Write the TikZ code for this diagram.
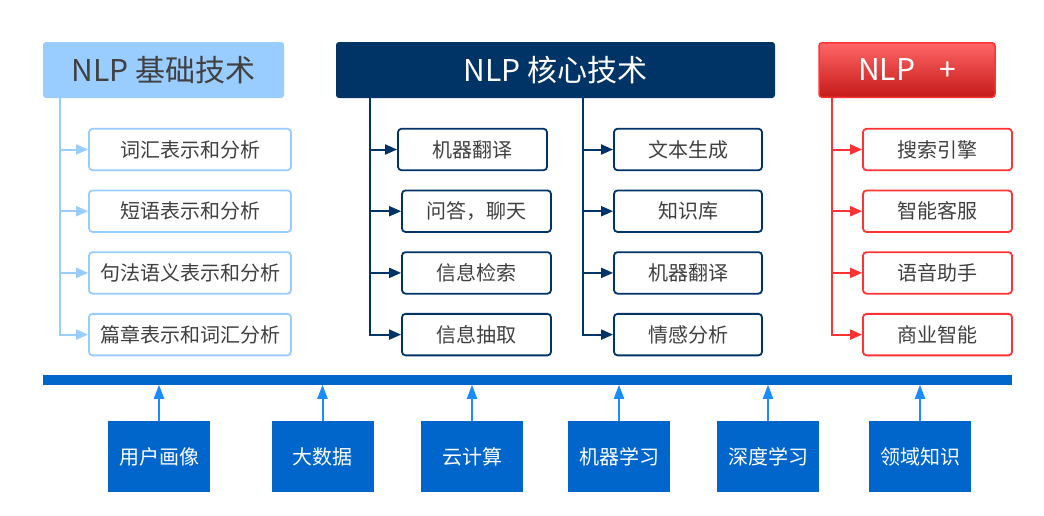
\documentclass[tikz,border=0pt]{standalone}
\usepackage{fontspec}
\setmainfont{Noto Sans CJK SC}
\usetikzlibrary{arrows.meta}

\definecolor{lightblue}{HTML}{99CCFF}
\definecolor{navy}{HTML}{003366}
\definecolor{redline}{HTML}{FF3333}
\definecolor{barblue}{HTML}{0066CC}
\definecolor{arrowblue}{HTML}{1A8CFF}
\definecolor{textgray}{HTML}{404040}

\tikzset{
  head/.style={rounded corners=3pt, minimum height=56pt, inner sep=0pt,
    font=\fontsize{30}{35}\selectfont},
  item/.style={draw, rounded corners=3.5pt, line width=1.8pt, fill=white,
    minimum height=41.5pt, inner sep=0pt, text=textgray,
    font=\fontsize{20}{24}\selectfont},
  base/.style={fill=barblue, minimum width=102pt, minimum height=71pt,
    inner sep=0pt, text=white, font=\fontsize{20}{24}\selectfont},
  link/.style={line width=2pt, -{Triangle[length=12pt,width=10pt]}},
  uplink/.style={line width=2pt, arrowblue, -{Triangle[length=14pt,width=10pt]}},
}

\begin{document}
\begin{tikzpicture}[x=1pt,y=-1pt]
\useasboundingbox[fill=white] (0,0) rectangle (1044,515);

% three heads
\node[head, fill=lightblue, text=textgray, minimum width=241pt] (basic) at (163.5,70) {NLP 基础技术};
\node[head, fill=navy, text=white, minimum width=439pt] (core) at (555.5,70) {NLP 核心技术};
\node[head, draw=redline, line width=1.5pt, top color=red!60!white, bottom color=red!75!black!90,
  text=white, minimum width=176pt, minimum height=54.5pt] (plus) at (907,70) {NLP\hspace{0.8em}+};

% trunks start under the heads
\coordinate (tbasic) at (60,98);
\coordinate (tcore) at (370,98);
\coordinate (tcoreb) at (583,98);
\coordinate (tplus) at (832,98);

\foreach \lab [count=\i] in {词汇表示和分析,短语表示和分析,句法语义表示和分析,篇章表示和词汇分析} {
  \node[item, draw=lightblue, minimum width=202pt] (b\i) at (190,87.8+61.7*\i) {\lab};
  \draw[link, lightblue] (tbasic) |- (b\i.west);
}

\foreach \lab/\cx [count=\i] in {机器翻译/472.5,问答，聊天/476.5,信息检索/476.5,信息抽取/476.5} {
  \node[item, draw=navy, minimum width=149pt] (c\i) at (\cx,87.8+61.7*\i) {\lab};
  \draw[link, navy] (tcore) |- (c\i.west);
}

\foreach \lab [count=\i] in {文本生成,知识库,机器翻译,情感分析} {
  \node[item, draw=navy, minimum width=148pt] (d\i) at (688,87.8+61.7*\i) {\lab};
  \draw[link, navy] (tcoreb) |- (d\i.west);
}

\foreach \lab [count=\i] in {搜索引擎,智能客服,语音助手,商业智能} {
  \node[item, draw=redline, minimum width=149pt] (p\i) at (937.5,87.8+61.7*\i) {\lab};
  \draw[link, redline] (tplus) |- (p\i.west);
}

% foundation
\node[fill=barblue, minimum width=969pt, minimum height=9.5pt, inner sep=0pt] (bar) at (527.5,379.8) {};
\foreach \lab/\cx [count=\i] in {用户画像/159,大数据/322.5,云计算/472,机器学习/619,深度学习/768,领域知识/920} {
  \node[base] (f\i) at (\cx,456.5) {\lab};
  \draw[uplink] (f\i) -- (f\i |- bar.south);
}
\end{tikzpicture}
\end{document}
